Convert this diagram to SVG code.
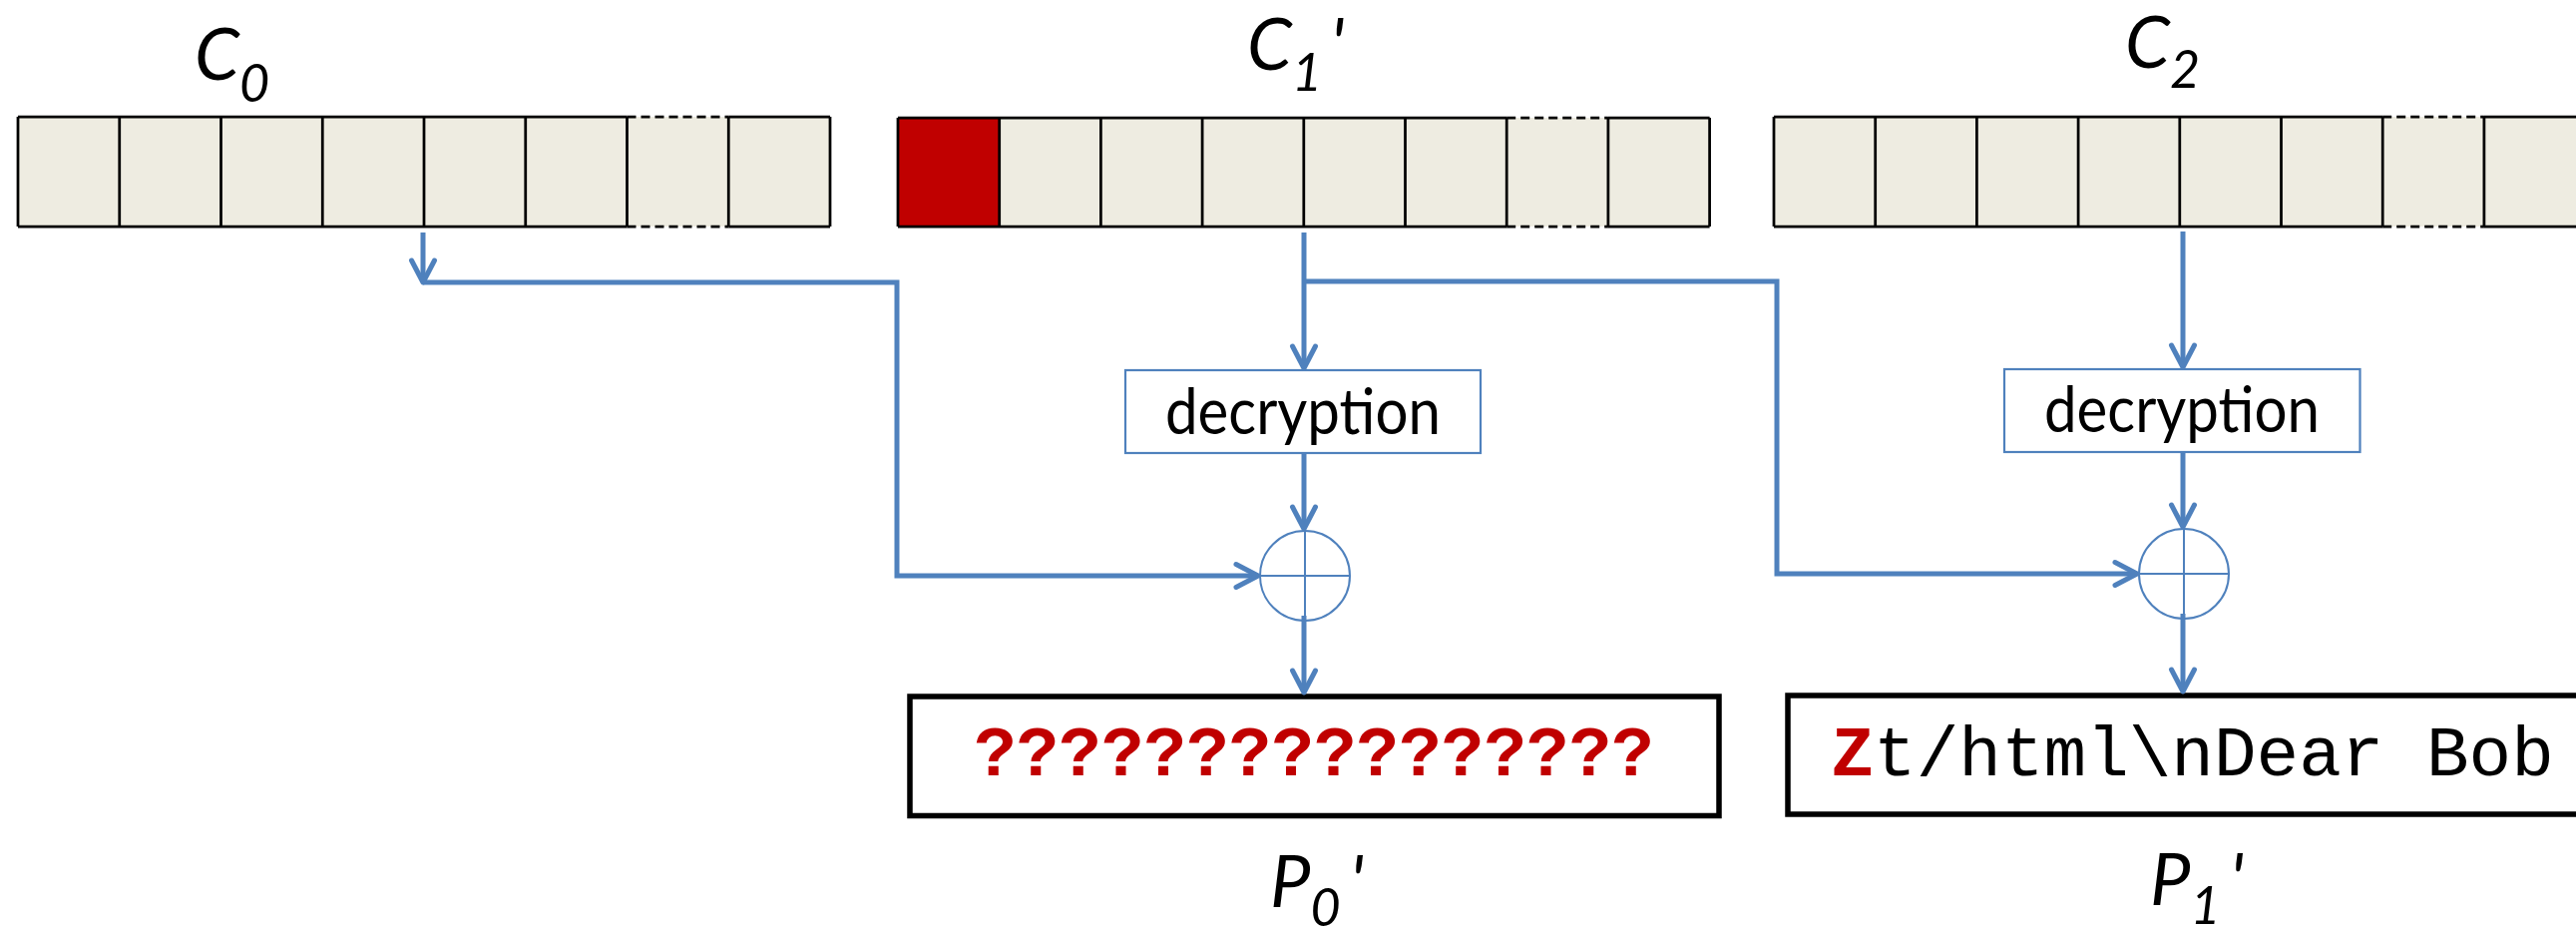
<svg xmlns="http://www.w3.org/2000/svg" width="2582" height="934" viewBox="0 0 2582 934">
  <style>
    .cell { fill: #EEECE1; }
    .hot { fill: #C00000; }
    .edge { stroke: #000; stroke-width: 2.75; fill: none; }
    .dash { stroke: #000; stroke-width: 2.75; fill: none; stroke-dasharray: 9 5; }
    .flow { stroke: #4F81BD; stroke-width: 5; fill: none; marker-end: url(#arrow); }
    .op { fill: #fff; stroke: #4F81BD; stroke-width: 2; }
    .opx { stroke: #4F81BD; stroke-width: 2; }
    .box { fill: #fff; stroke: #4F81BD; stroke-width: 2.2; }
    .out { fill: #fff; stroke: #000; stroke-width: 5.5; }
    .lbl { font-family: Lato, "Open Sans", sans-serif; font-style: italic; font-size: 72px; fill: #000; }
    .sub { font-size: 52px; }
    .dec { font-family: Lato, "Open Sans", sans-serif; font-size: 63px; fill: #000; }
    .mono { font-family: "Liberation Mono", "Courier New", monospace; font-size: 71px; }
  </style>
  <defs>
    <marker id="arrow" markerUnits="userSpaceOnUse" markerWidth="40" markerHeight="40" viewBox="-28 -20 40 40" refX="0" refY="0" orient="auto" overflow="visible">
      <path d="M-22,-11.5 L0,0 L-22,11.5" fill="none" stroke="#4F81BD" stroke-width="5" stroke-linecap="round" stroke-linejoin="round"/>
    </marker>
  </defs>

  <rect width="2582" height="934" fill="#fff"/>

  <!-- ciphertext block C0 -->
  <g id="c0">
    <rect class="cell" x="18" y="117" width="814" height="110"/>
    <path class="edge" d="M18,117 H628.5 M730.25,117 H832 M18,227 H628.5 M730.25,227 H832"/>
    <path class="dash" d="M628.5,117 H730.25 M628.5,227 H730.25"/>
    <path class="edge" d="M18,117 V227 M119.75,117 V227 M221.5,117 V227 M323.25,117 V227 M425,117 V227 M526.75,117 V227 M628.5,117 V227 M730.25,117 V227 M832,117 V227"/>
    <text class="lbl" x="195" y="80">C<tspan class="sub" dy="22">0</tspan></text>
  </g>

  <!-- modified ciphertext block C1' (first byte altered) -->
  <g id="c1">
    <rect class="cell" x="900" y="118" width="813.6" height="109"/>
    <rect class="hot" x="900" y="118" width="101.7" height="109"/>
    <path class="edge" d="M900,118 H1510.2 M1611.9,118 H1713.6 M900,227 H1510.2 M1611.9,227 H1713.6"/>
    <path class="dash" d="M1510.2,118 H1611.9 M1510.2,227 H1611.9"/>
    <path class="edge" d="M900,118 V227 M1001.7,118 V227 M1103.4,118 V227 M1205.1,118 V227 M1306.8,118 V227 M1408.5,118 V227 M1510.2,118 V227 M1611.9,118 V227 M1713.6,118 V227"/>
    <text class="lbl" x="1250" y="70">C<tspan class="sub" dy="21">1</tspan><tspan dx="8" dy="-21">'</tspan></text>
  </g>

  <!-- ciphertext block C2 -->
  <g id="c2">
    <rect class="cell" x="1778" y="117" width="813.6" height="110"/>
    <path class="edge" d="M1778,117 H2388.2 M2489.9,117 H2600 M1778,227 H2388.2 M2489.9,227 H2600"/>
    <path class="dash" d="M2388.2,117 H2489.9 M2388.2,227 H2489.9"/>
    <path class="edge" d="M1778,117 V227 M1879.7,117 V227 M1981.4,117 V227 M2083.1,117 V227 M2184.8,117 V227 M2286.5,117 V227 M2388.2,117 V227 M2489.9,117 V227"/>
    <text class="lbl" x="2130" y="68">C<tspan class="sub" dy="20">2</tspan></text>
  </g>

  <!-- block cipher decryption stages -->
  <g id="dec1">
    <rect class="box" x="1128" y="371" width="356" height="83"/>
    <text class="dec" x="1306" y="435" text-anchor="middle" textLength="276" lengthAdjust="spacingAndGlyphs">decryption</text>
  </g>
  <g id="dec2">
    <rect class="box" x="2009" y="370" width="356.5" height="83"/>
    <text class="dec" x="2187" y="433" text-anchor="middle" textLength="276" lengthAdjust="spacingAndGlyphs">decryption</text>
  </g>

  <!-- XOR operators -->
  <g id="xor1">
    <circle class="op" cx="1308" cy="577" r="45"/>
    <path class="opx" d="M1263,577 H1353 M1308,532 V622"/>
  </g>
  <g id="xor2">
    <circle class="op" cx="2189" cy="575" r="45"/>
    <path class="opx" d="M2144,575 H2234 M2189,530 V620"/>
  </g>

  <!-- recovered plaintext blocks -->
  <g id="p0">
    <rect class="out" x="912" y="698" width="811" height="119.5"/>
    <text class="mono" x="1317" y="777" text-anchor="middle" fill="#C00000" font-weight="bold">????????????????</text>
    <text class="lbl" x="1273" y="909">P<tspan class="sub" dy="19">0</tspan><tspan dx="9" dy="-19">'</tspan></text>
  </g>
  <g id="p1">
    <rect class="out" x="1792" y="697" width="900" height="119"/>
    <text class="mono" x="1835.5" y="777" fill="#000"><tspan fill="#C00000" font-weight="bold">Z</tspan>t/html\nDear Bob</text>
    <text class="lbl" x="2155" y="907">P<tspan class="sub" dy="19">1</tspan><tspan dx="9" dy="-19">'</tspan></text>
  </g>

  <!-- data flow -->
  <g id="connectors">
    <path class="flow" d="M424,233 V283"/>
    <path class="flow" d="M424,283 H899 V577 H1261"/>
    <path class="flow" d="M1307,233 V369"/>
    <path class="flow" d="M1307,282 H1781 V575 H2142"/>
    <path class="flow" d="M1307,454 V530"/>
    <path class="flow" d="M1307,617 V694"/>
    <path class="flow" d="M2188,232 V368"/>
    <path class="flow" d="M2188,453 V528"/>
    <path class="flow" d="M2188,615 V693"/>
  </g>
</svg>
